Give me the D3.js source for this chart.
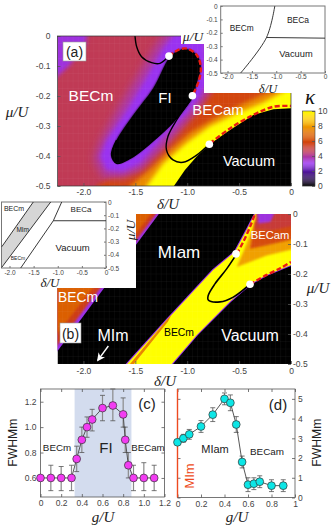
<!DOCTYPE html>
<html>
<head>
<meta charset="utf-8">
<script src="https://cdn.jsdelivr.net/npm/d3@7"></script>
<style>
    html, body { margin: 0; padding: 0; background: #fff; }
    svg { display: block; }
    text { font-family: "Liberation Sans", sans-serif; }
    .math { font-family: "Liberation Serif", serif; font-style: italic; }
    .tick text { font-size: 8.5px; fill: #444; }
    .small .tick text { font-size: 6.5px; }
    .domain { stroke: none; }
    .tick line { stroke: #555; stroke-width: 0.8; }
</style>
</head>
<body>
<svg id="chart" width="332" height="525"></svg>
<script>
// colour scale of kappa
const kappaStops = [0, 1, 2, 3, 4, 4.6, 5.5, 7, 8, 9, 10];
const kappaColors = ["#000000", "#2c0a58", "#5a1aa8", "#9a30f0", "#b03a98", "#c03a55", "#cf3c12", "#e06a00", "#f0a000", "#ffd000", "#ffff00"];
const kappaTicks = [0, 2, 4, 6, 8, 10];

// panel (a) regions, [delta, mu] boundaries
const aCornerPurple = [[-2.3, 0.03], [-1.95, 0.03], [-1.98, -0.03], [-2.14, -0.1], [-2.3, -0.15]];
const aRedBand = [[-1.873, -0.55], [-1.873, -0.5], [-1.712, -0.467], [-1.455, -0.449], [-1.295, -0.391], [-1.102, -0.324], [-0.909, -0.252], [-0.748, -0.18], [0.05, -0.15], [0.05, -0.55]];
const aOrangeBand = [[-1.6, -0.55], [-1.552, -0.5], [-1.359, -0.444], [-1.166, -0.378], [-0.973, -0.322], [-0.716, -0.27], [-0.459, -0.225], [-0.267, -0.195], [0.05, -0.16], [0.05, -0.55]];
const aYellowBand = [[-1.43, -0.55], [-1.391, -0.5], [-1.23, -0.424], [-1.005, -0.356], [-0.781, -0.3], [-0.524, -0.258], [-0.267, -0.222], [-0.042, -0.18], [0.05, -0.16], [0.05, -0.55]];
const aHaloOuter = [[-1.16, 0.03], [-0.8, 0.03], [-0.78, -0.17], [-0.86, -0.225], [-1.0, -0.285], [-1.2, -0.365], [-1.44, -0.445], [-1.62, -0.475], [-1.81, -0.47], [-1.9, -0.41], [-1.83, -0.345], [-1.66, -0.24], [-1.47, -0.13], [-1.3, -0.03]];
const aHalo = [[-1.07, 0.03], [-0.84, 0.03], [-0.81, -0.158], [-0.877, -0.202], [-1.005, -0.258], [-1.23, -0.336], [-1.455, -0.424], [-1.616, -0.452], [-1.776, -0.447], [-1.84, -0.402], [-1.776, -0.347], [-1.584, -0.25], [-1.41, -0.15], [-1.23, -0.04]];
const aVacuum = [[-1.128, -0.5], [-1.022, -0.447], [-0.909, -0.402], [-0.781, -0.36], [-0.588, -0.313], [-0.363, -0.263], [-0.17, -0.244], [0, -0.241], [0, -0.5]];
const aInsulator = [[-1.166, -0.069], [-1.09, -0.05], [-1.005, -0.044], [-0.909, -0.063], [-0.87, -0.102], [-0.909, -0.158], [-0.957, -0.208], [-1.134, -0.286], [-1.359, -0.358], [-1.552, -0.408], [-1.68, -0.422], [-1.728, -0.397], [-1.68, -0.347], [-1.52, -0.263], [-1.327, -0.174]];

// panel (a) phase boundaries
const aCurveTop = [[-1.503, 0], [-1.487, -0.036], [-1.44, -0.069], [-1.343, -0.089], [-1.262, -0.091], [-1.176, -0.067]];
const aCurveInsulator = [[-0.957, -0.208], [-1.134, -0.286], [-1.359, -0.358], [-1.552, -0.408], [-1.68, -0.424], [-1.728, -0.397], [-1.68, -0.347]];
const aCurveLoop = [[-0.957, -0.208], [-1.102, -0.28], [-1.186, -0.335], [-1.2, -0.38], [-1.137, -0.413], [-1.04, -0.421], [-0.909, -0.397], [-0.787, -0.36]];
const aDashTop = [[-1.176, -0.067], [-1.09, -0.047], [-1.005, -0.042], [-0.909, -0.063], [-0.87, -0.102], [-0.886, -0.147], [-0.947, -0.197]];
const aDashRight = [[-0.78, -0.358], [-0.588, -0.308], [-0.363, -0.263], [-0.17, -0.236], [0, -0.233]];
const aDots = [[-1.176, -0.067], [-0.95, -0.199], [-0.787, -0.361]];

// panel (b) regions
const bMottOuter = [[-2.3, 0.03], [-1.21, 0.03], [-2.3, -0.48]];
const bMottRed = [[-2.3, 0.03], [-1.235, 0.03], [-2.3, -0.46]];
const bMottOrange = [[-2.3, 0.03], [-1.28, 0.03], [-2.3, -0.42]];
const bBand = [[-1.58, -0.5], [-1.197, -0.353], [-0.75, -0.187], [-0.54, -0.126], [-0.427, -0.053], [-0.347, 0], [0, 0], [0, -0.17], [-0.234, -0.203], [-0.395, -0.234], [-0.588, -0.292], [-0.908, -0.403], [-1.149, -0.5]];
const bFringe = [[-1.6, -0.52], [-1.197, -0.353], [-1.15, -0.335], [-1.185, -0.358], [-1.56, -0.52]];
const bWedgeOrange = [[-0.337, -0.016], [0.05, 0.03], [0.05, -0.115], [-0.234, -0.138], [-0.523, -0.177], [-0.46, -0.127], [-0.395, -0.07]];
const bWedgeRed = [[-0.347, -0.027], [0.05, 0.03], [0.05, -0.082], [-0.234, -0.104], [-0.395, -0.116]];
const bWedgeCrimson = [[-0.33, 0.03], [0.05, 0.03], [0.05, -0.038], [-0.186, -0.054], [-0.347, -0.049]];
const bWedgePurple = [[-0.33, 0.03], [-0.125, 0.03], [-0.2, -0.027], [-0.315, -0.032]];

// panel (b) phase boundaries
const bCurveLoop = [[-0.523, -0.133], [-0.62, -0.183], [-0.733, -0.233], [-0.797, -0.271], [-0.797, -0.287], [-0.684, -0.293], [-0.556, -0.277], [-0.395, -0.234]];
const bDashTop = [[-0.523, -0.133], [-0.46, -0.093], [-0.395, -0.043], [-0.347, 0]];
const bDashRight = [[-0.395, -0.234], [-0.234, -0.203], [-0.1, -0.18], [0, -0.16]];
const bDots = [[-0.53, -0.133], [-0.395, -0.234]];
const bArrow = [[-1.76, -0.44], [-1.86, -0.487]];

// inset phase diagrams
const insetAFirst = [[-1.73, -0.5], [-1.2, -0.235], [-1.03, 0]];
const insetASecond = [[-1.2, -0.235], [0, -0.24]];
const insetBGrey = [[-1.507, 0], [-1.146, 0], [-2.16, -0.495], [-2.16, -0.339]];
const insetBLineA = [[-1.507, 0], [-2.16, -0.339]];
const insetBLineB = [[-1.146, 0], [-2.16, -0.495]];
const insetBLineC = [[-0.918, 0], [-1.092, -0.142], [-1.768, -0.5]];
const insetBLineD = [[-1.092, -0.142], [0, -0.142]];

// panel (c)
const cG = [0, 0.1, 0.2, 0.3, 0.35, 0.4, 0.45, 0.5, 0.6, 0.7, 0.8, 0.82, 0.85, 0.9, 1.0, 1.1];
const cFwhm = [0.6, 0.6, 0.6, 0.6, 0.75, 0.9, 1.0, 1.06, 1.15, 1.17, 1.1, 0.9, 0.7, 0.6, 0.6, 0.6];
const cLow = [0.6, 0.5, 0.5, 0.5, 0.65, 0.8, 0.92, 0.97, 1.05, 1.05, 1.0, 0.8, 0.6, 0.5, 0.5, 0.5];
const cHigh = [0.6, 0.7, 0.69, 0.7, 0.85, 1.0, 1.08, 1.14, 1.25, 1.3, 1.23, 1.0, 0.8, 0.7, 0.72, 0.7];
const cShade = [0.33, 0.88];

// panel (d)
const dG = [0, 0.05, 0.1, 0.2, 0.3, 0.4, 0.45, 0.5, 0.55, 0.6, 0.65, 0.7, 0.8, 0.9];
const dFwhm = [2.8, 3.0, 3.2, 3.6, 4.2, 5.0, 4.8, 3.7, 1.8, 0.65, 0.7, 0.8, 0.6, 0.6];
const dLow = [2.8, 2.8, 2.95, 3.3, 3.85, 4.7, 4.4, 3.3, 1.5, 0.3, 0.4, 0.5, 0.3, 0.3];
const dHigh = [2.8, 3.2, 3.45, 3.9, 4.55, 5.3, 5.2, 4.1, 2.1, 1.0, 1.0, 1.1, 0.9, 0.9];

const deltaTicks = [-2, -1.5, -1, -0.5, 0];
const muTicks = [0, -0.1, -0.2, -0.3, -0.4, -0.5];
const plain = d => d === 0 ? "0" : d3.format(".1f")(d).replace("\u2212", "-");

const svg = d3.select("#chart");
const kappa = d3.scaleLinear().domain(kappaStops).range(kappaColors);

const defs = svg.append("defs");
[["soft", 2.2], ["softest", 4], ["softer", 1]].forEach(f => {
    defs.append("filter").attr("id", f[0])
        .attr("x", "-20%").attr("y", "-20%").attr("width", "140%").attr("height", "140%")
        .append("feGaussianBlur").attr("stdDeviation", f[1]);
});

function shape(x, y, curve) {
    return d3.line().x(d => x(d[0])).y(d => y(d[1])).curve(curve || d3.curveLinear);
}

function label(g, txt, px, py, size, color, cls) {
    return g.append("text").attr("class", cls || null)
        .attr("x", px).attr("y", py)
        .attr("text-anchor", "middle").attr("dominant-baseline", "central")
        .attr("font-size", size).attr("fill", color).text(txt);
}

function curve(g, x, y, pts, color, width, dash) {
    g.append("path")
        .attr("d", shape(x, y, d3.curveCatmullRom)(pts))
        .attr("fill", "none").attr("stroke", color).attr("stroke-width", width)
        .attr("stroke-dasharray", dash || null);
}

function dots(g, x, y, pts) {
    g.selectAll(null).data(pts).join("circle")
        .attr("cx", d => x(d[0])).attr("cy", d => y(d[1])).attr("r", 3.8)
        .attr("fill", "#fff");
}

// faint raster lines that show in the original image
function raster(g, x, y, stepX, stepY) {
    g.selectAll(null).data(d3.range(-2.25, 0, stepX)).join("line")
        .attr("x1", d => x(d)).attr("x2", d => x(d))
        .attr("y1", y.range()[0]).attr("y2", y.range()[1])
        .attr("stroke", "#fff").attr("stroke-opacity", 0.05).attr("stroke-width", 0.7);
    g.selectAll(null).data(d3.range(-0.5, 0, stepY)).join("line")
        .attr("y1", d => y(d)).attr("y2", d => y(d))
        .attr("x1", x.range()[0]).attr("x2", x.range()[1])
        .attr("stroke", "#fff").attr("stroke-opacity", 0.05).attr("stroke-width", 0.7);
}

function heatPanel(id, x, y) {
    defs.append("clipPath").attr("id", id).append("rect")
        .attr("x", x.range()[0]).attr("y", y.range()[0])
        .attr("width", x.range()[1] - x.range()[0])
        .attr("height", y.range()[1] - y.range()[0]);
    return svg.append("g").attr("clip-path", `url(#${id})`);
}

function fillRegion(g, x, y, pts, value, filter, smooth) {
    return g.append("path")
        .attr("d", shape(x, y, smooth ? d3.curveCatmullRomClosed : d3.curveLinearClosed)(pts))
        .attr("fill", kappa(value))
        .attr("filter", filter ? `url(#${filter})` : null);
}

// ---------- panel (a)
const ax = d3.scaleLinear().domain([-2.25, 0]).range([57.5, 291]);
const ay = d3.scaleLinear().domain([0, -0.5]).range([36, 186]);
const aMap = heatPanel("clipA", ax, ay);

aMap.append("rect").attr("x", 57.5).attr("y", 36).attr("width", 233.5).attr("height", 150).attr("fill", kappa(4.6));
fillRegion(aMap, ax, ay, aCornerPurple, 3.2, "soft");
fillRegion(aMap, ax, ay, aRedBand, 5.8, "soft");
fillRegion(aMap, ax, ay, aOrangeBand, 7.6, "soft");
fillRegion(aMap, ax, ay, aYellowBand, 10, "soft");
fillRegion(aMap, ax, ay, aHaloOuter, 3.8, "softest");
fillRegion(aMap, ax, ay, aHalo, 3, "soft");
fillRegion(aMap, ax, ay, aVacuum, 0, null);
fillRegion(aMap, ax, ay, aInsulator, 0, "softer", true);
fillRegion(aMap, ax, ay, aInsulator, 0, null, true);
raster(aMap, ax, ay, 0.05, 0.025);

curve(aMap, ax, ay, aCurveTop, "#000", 1.4);
curve(aMap, ax, ay, aCurveInsulator, "#000", 1.6);
curve(aMap, ax, ay, aCurveLoop, "#000", 1.4);
curve(aMap, ax, ay, aDashTop, "#ea1c14", 2.4, "5 2.5");
curve(aMap, ax, ay, aDashRight, "#ea1c14", 2.4, "5 2.5");
dots(svg, ax, ay, aDots);

svg.append("g").attr("transform", "translate(0,186)")
    .call(d3.axisBottom(ax).tickValues(deltaTicks).tickFormat(plain).tickSizeInner(-3).tickSizeOuter(0).tickPadding(3));
svg.append("g").attr("transform", "translate(57.5,0)")
    .call(d3.axisLeft(ay).tickValues(muTicks).tickFormat(plain).tickSizeInner(-3).tickSizeOuter(0).tickPadding(7));
svg.append("rect").attr("x", 57.5).attr("y", 36).attr("width", 233.5).attr("height", 150)
    .attr("fill", "none").attr("stroke", "#333").attr("stroke-width", 0.7);

label(svg, "BECm", 91, 95, 15.5, "#fff");
label(svg, "FI", 165, 97, 15, "#fff");
label(svg, "BECam", 218, 109, 15, "#fff");
label(svg, "Vacuum", 249, 161, 14.5, "#fff");
label(svg, "\u03bc/U", 17, 112, 15, "#222", "math");
label(svg, "\u03b4/U", 168, 204, 15, "#222", "math");

svg.append("rect").attr("x", 63).attr("y", 42).attr("width", 23).attr("height", 19).attr("fill", "#fff").attr("stroke", "#999").attr("stroke-width", 0.6);
label(svg, "(a)", 74.5, 51.5, 14, "#222");

// inset of (a)
svg.append("rect").attr("x", 204).attr("y", 0).attr("width", 128).attr("height", 93).attr("fill", "#fff");
svg.append("rect").attr("x", 181).attr("y", 30).attr("width", 24).attr("height", 14).attr("fill", "#fff");

const ix = d3.scaleLinear().domain([-2.14, 0]).range([220.7, 325]);
const iy = d3.scaleLinear().domain([0, -0.5]).range([6, 73]);
svg.append("g").attr("class", "small").attr("transform", "translate(0,73)")
    .call(d3.axisBottom(ix).tickValues(deltaTicks).tickFormat(plain).tickSizeInner(-2).tickSizeOuter(0).tickPadding(1.5));
svg.append("g").attr("class", "small").attr("transform", "translate(220.7,0)")
    .call(d3.axisLeft(iy).tickValues(muTicks).tickFormat(plain).tickSizeInner(-2).tickSizeOuter(0).tickPadding(3));
svg.append("rect").attr("x", 220.7).attr("y", 6).attr("width", 104.3).attr("height", 67)
    .attr("fill", "none").attr("stroke", "#777").attr("stroke-width", 1);
curve(svg, ix, iy, insetAFirst, "#222", 0.9);
curve(svg, ix, iy, insetASecond, "#222", 0.9);
label(svg, "BECm", 241.7, 27.7, 8.3, "#222");
label(svg, "BECa", 298, 20, 8.5, "#222");
label(svg, "Vacuum", 296, 54, 9.3, "#222");
label(svg, "\u03bc/U", 193, 36, 13.5, "#222", "math");
label(svg, "\u03b4/U", 268, 88.5, 12.5, "#222", "math");

// colour bar
const barY = d3.scaleLinear().domain([0, 10]).range([186, 111]);
svg.append("g").selectAll("rect").data(d3.range(0, 10, 0.125)).join("rect")
    .attr("x", 302.5).attr("width", 12.5)
    .attr("y", d => barY(d + 0.125)).attr("height", barY(0) - barY(0.14))
    .attr("fill", d => kappa(d));
svg.append("g").attr("transform", "translate(315,0)")
    .call(d3.axisRight(barY).tickValues(kappaTicks).tickFormat(d3.format("d")).tickSizeInner(-3).tickSizeOuter(0).tickPadding(3));
svg.append("rect").attr("x", 302.5).attr("y", 111).attr("width", 12.5).attr("height", 75)
    .attr("fill", "none").attr("stroke", "#444").attr("stroke-width", 0.6);
label(svg, "\u03ba", 310, 97, 21, "#111", "math");

// ---------- panel (b)
const by = d3.scaleLinear().domain([0, -0.5]).range([214, 364]);
const bMap = heatPanel("clipB", ax, by);

bMap.append("rect").attr("x", 57.5).attr("y", 214).attr("width", 233.5).attr("height", 150).attr("fill", "#000");
fillRegion(bMap, ax, by, bMottOuter, 3, null);
fillRegion(bMap, ax, by, bMottRed, 5.4, "softer");
fillRegion(bMap, ax, by, bMottOrange, 6.6, "softer");
fillRegion(bMap, ax, by, bBand, 10, null)
    .attr("stroke", kappa(3)).attr("stroke-width", 2).attr("paint-order", "stroke");
fillRegion(bMap, ax, by, bFringe, 7.5, null);
fillRegion(bMap, ax, by, bWedgeOrange, 8, "softer");
fillRegion(bMap, ax, by, bWedgeRed, 6, "softer");
fillRegion(bMap, ax, by, bWedgeCrimson, 5, "softer");
fillRegion(bMap, ax, by, bWedgePurple, 3.2, "softer");
raster(bMap, ax, by, 0.05, 0.025);

curve(bMap, ax, by, bCurveLoop, "#000", 1.6);
curve(bMap, ax, by, bDashTop, "#ea1c14", 2.4, "5 2.5");
curve(bMap, ax, by, bDashRight, "#ea1c14", 2.4, "5 2.5");
dots(svg, ax, by, bDots);

svg.append("g").attr("transform", "translate(0,364)")
    .call(d3.axisBottom(ax).tickValues(deltaTicks).tickFormat(plain).tickSizeInner(-3).tickSizeOuter(0).tickPadding(4));
svg.append("g").attr("transform", "translate(291,0)")
    .call(d3.axisRight(by).tickValues(muTicks).tickFormat(plain).tickSizeInner(-3).tickSizeOuter(0).tickPadding(2));

label(svg, "MIam", 179, 252, 17, "#fff");
label(svg, "MIm", 113, 335.7, 16, "#fff");
label(svg, "Vacuum", 250, 335, 16, "#fff");
label(svg, "BECam", 270, 235, 11.2, "#fff");
label(svg, "BECm", 78, 297.7, 13.8, "#fff");
label(svg, "BECm", 179, 332.7, 10.4, "#000");
label(svg, "\u03bc/U", 318, 288, 15, "#222", "math");
label(svg, "\u03b4/U", 165, 381, 15, "#222", "math");

svg.append("rect").attr("x", 60).attr("y", 323).attr("width", 21).attr("height", 20).attr("fill", "#fff").attr("stroke", "#999").attr("stroke-width", 0.6);
label(svg, "(b)", 70.5, 333.5, 14, "#222");

defs.append("marker").attr("id", "head").attr("viewBox", "0 0 10 10").attr("refX", 8).attr("refY", 5)
    .attr("markerWidth", 6).attr("markerHeight", 6).attr("orient", "auto")
    .append("path").attr("d", "M0,0L10,5L0,10L3,5Z").attr("fill", "#fff");
svg.append("path").attr("d", shape(ax, by)(bArrow))
    .attr("stroke", "#fff").attr("stroke-width", 1.4).attr("fill", "none").attr("marker-end", "url(#head)");

// inset of (b)
svg.append("rect").attr("x", 0).attr("y", 196).attr("width", 136).attr("height", 92).attr("fill", "#fff");

const jx = d3.scaleLinear().domain([-2.166, 0]).range([1.5, 106]);
const jy = d3.scaleLinear().domain([0, -0.5]).range([202, 268]);
svg.append("path").attr("d", shape(jx, jy, d3.curveLinearClosed)(insetBGrey)).attr("fill", "#d6d6d6");
svg.append("g").attr("class", "small").attr("transform", "translate(0,268)")
    .call(d3.axisBottom(jx).tickValues(deltaTicks).tickFormat(plain).tickSizeInner(-2).tickSizeOuter(0).tickPadding(2));
svg.append("g").attr("class", "small").attr("transform", "translate(106,0)")
    .call(d3.axisRight(jy).tickValues(muTicks).tickFormat(plain).tickSizeInner(-2).tickSizeOuter(0).tickPadding(2));
svg.append("rect").attr("x", 1.5).attr("y", 202).attr("width", 104.5).attr("height", 66)
    .attr("fill", "none").attr("stroke", "#777").attr("stroke-width", 1);
[insetBLineA, insetBLineB, insetBLineC, insetBLineD].forEach(l => {
    svg.append("path").attr("d", shape(jx, jy)(l)).attr("fill", "none").attr("stroke", "#222").attr("stroke-width", 0.9);
});
label(svg, "BECm", 14, 208, 7, "#222");
label(svg, "MIm", 22.7, 229, 6.5, "#222");
label(svg, "BECm", 18, 258, 5, "#222");
label(svg, "BECa", 81, 209, 8, "#222");
label(svg, "Vacuum", 72.7, 247, 9.5, "#222");
label(svg, "\u03b4/U", 50, 282, 13, "#222", "math");
label(svg, "\u03bc/U", 130, 230, 13.5, "#222", "math").attr("transform", "rotate(-90 130 230)");

// ---------- line panels
function errorPlot(x, y, gs, vals, low, high, fill) {
    const g = svg.append("g");
    const rows = gs.map((d, i) => ({ g: d, v: vals[i], low: low[i], high: high[i] }));
    g.selectAll(".bar").data(rows).join("line").attr("class", "bar")
        .attr("x1", d => x(d.g)).attr("x2", d => x(d.g))
        .attr("y1", d => y(d.low)).attr("y2", d => y(d.high))
        .attr("stroke", "#8a8a8a").attr("stroke-width", 1.2);
    ["low", "high"].forEach(k => {
        g.selectAll(".cap-" + k).data(rows).join("line").attr("class", "cap-" + k)
            .attr("x1", d => x(d.g) - 2.5).attr("x2", d => x(d.g) + 2.5)
            .attr("y1", d => y(d[k])).attr("y2", d => y(d[k]))
            .attr("stroke", "#555").attr("stroke-width", 0.8);
    });
    g.append("path").datum(rows)
        .attr("d", d3.line().x(d => x(d.g)).y(d => y(d.v)))
        .attr("fill", "none").attr("stroke", "#444").attr("stroke-width", 0.9);
    g.selectAll("circle").data(rows).join("circle")
        .attr("cx", d => x(d.g)).attr("cy", d => y(d.v)).attr("r", 3.9)
        .attr("fill", fill).attr("stroke", "#333").attr("stroke-width", 0.7);
}

// panel (c)
const cx = d3.scaleLinear().domain([0, 1.2]).range([40.5, 164.5]);
const cy = d3.scaleLinear().domain([0.45, 1.3]).range([497, 389]);
svg.append("rect").attr("x", cx(cShade[0])).attr("y", 389)
    .attr("width", cx(cShade[1]) - cx(cShade[0])).attr("height", 108).attr("fill", "#d3dcee");
svg.append("g").attr("transform", "translate(0,497)")
    .call(d3.axisBottom(cx).tickValues(d3.range(0, 1.3, 0.2)).tickFormat(plain).tickSizeInner(-3).tickSizeOuter(0).tickPadding(3));
svg.append("g").attr("transform", "translate(0,389)")
    .call(d3.axisTop(cx).tickValues(d3.range(0, 1.3, 0.2)).tickFormat("").tickSizeInner(-3).tickSizeOuter(0));
svg.append("g").attr("transform", "translate(40.5,0)")
    .call(d3.axisLeft(cy).tickValues([0.6, 0.8, 1.0, 1.2]).tickFormat(plain).tickSizeInner(-3).tickSizeOuter(0).tickPadding(4));
svg.append("g").attr("transform", "translate(164.5,0)")
    .call(d3.axisRight(cy).tickValues([0.6, 0.8, 1.0, 1.2]).tickFormat("").tickSizeInner(-3).tickSizeOuter(0));
svg.append("rect").attr("x", 40.5).attr("y", 389).attr("width", 124).attr("height", 108)
    .attr("fill", "none").attr("stroke", "#555").attr("stroke-width", 0.8);
errorPlot(cx, cy, cG, cFwhm, cLow, cHigh, "#f23cf2");
label(svg, "BECm", 57, 447, 9.8, "#222");
label(svg, "FI", 106, 447, 15, "#222");
label(svg, "BECam", 148, 447, 9.7, "#222");
label(svg, "(c)", 147, 403, 15, "#222");
label(svg, "FWHMm", 12.7, 442.7, 12.2, "#222").attr("transform", "rotate(-90 12.7 442.7)");
label(svg, "g/U", 103, 517, 15, "#222", "math");

// panel (d)
const dx = d3.scaleLinear().domain([0, 1]).range([177.5, 295]);
const dy = d3.scaleLinear().domain([0, 5.5]).range([497.5, 389]);
svg.append("g").attr("transform", "translate(0,497.5)")
    .call(d3.axisBottom(dx).tickValues(d3.range(0, 1.1, 0.2)).tickFormat(d => d === 0 ? "0" : d > 0.99 ? "1" : d3.format(".1f")(d)).tickSizeInner(-3).tickSizeOuter(0).tickPadding(3));
svg.append("g").attr("transform", "translate(0,389)")
    .call(d3.axisTop(dx).tickValues(d3.range(0, 1.1, 0.2)).tickFormat("").tickSizeInner(-3).tickSizeOuter(0));
svg.append("g").attr("transform", "translate(295,0)")
    .call(d3.axisRight(dy).tickValues(d3.range(0, 6)).tickFormat(d3.format("d")).tickSizeInner(-3).tickSizeOuter(0).tickPadding(3));
svg.append("g").attr("transform", "translate(177.5,0)")
    .call(d3.axisLeft(dy).tickValues(d3.range(0, 6)).tickFormat("").tickSizeInner(-3).tickSizeOuter(0));
svg.append("rect").attr("x", 177.5).attr("y", 389).attr("width", 117.5).attr("height", 108.5)
    .attr("fill", "none").attr("stroke", "#555").attr("stroke-width", 0.8);
svg.append("line").attr("x1", 177.5).attr("x2", 177.5).attr("y1", 389).attr("y2", 497.5)
    .attr("stroke", "#ee4a20").attr("stroke-width", 1.4);
errorPlot(dx, dy, dG, dFwhm, dLow, dHigh, "#0ce6e6");
label(svg, "(d)", 278, 404, 15, "#222");
label(svg, "MIam", 215, 449, 11, "#222");
label(svg, "BECam", 267, 451, 9.9, "#222");
label(svg, "MIm", 189, 476, 12.9, "#ee4a20").attr("transform", "rotate(-90 189 476)");
label(svg, "FWHMm", 317, 442.7, 12.2, "#222").attr("transform", "rotate(-90 317 442.7)");
label(svg, "g/U", 237, 517, 15, "#222", "math");
</script>
</body>
</html>
